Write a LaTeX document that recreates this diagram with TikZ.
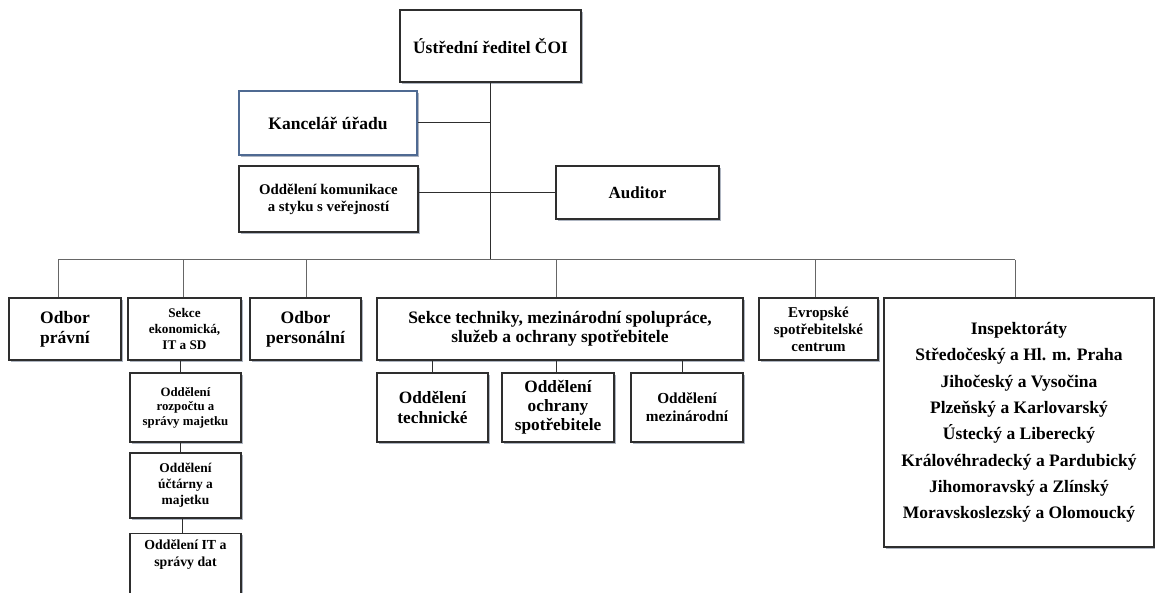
\documentclass[tikz,border=0pt]{standalone}
\usepackage{fontspec}
\setmainfont{Liberation Serif}
\usetikzlibrary{shadows}
\definecolor{boxline}{HTML}{2E2E2E}
\definecolor{kancline}{HTML}{4F6A92}
\definecolor{busline}{HTML}{666666}
\definecolor{shadowc}{HTML}{8C97A8}
\begin{document}
\begin{tikzpicture}[x=1pt,y=-1pt,
  box/.style={draw=boxline, line width=1.1pt, fill=white, rectangle, inner sep=0pt, align=center,
    drop shadow={shadow xshift=1.6pt, shadow yshift=-1.6pt, fill=shadowc, opacity=0.7}},
  fs/.style 2 args={font=\bfseries\fontsize{#1}{#2}\selectfont, align=center},
  conn/.style={draw=boxline, line width=1pt},
  bus/.style={draw=busline, line width=1pt}]
\useasboundingbox[fill=white] (0,0) rectangle (1155,593);

% top level
\node[box, fs={17.4}{20}, minimum width=181pt, minimum height=72pt] (top) at (490.5,46) {Ústřední ředitel ČOI};
\node[box, draw=kancline, fs={17.5}{20}, minimum width=178pt, minimum height=64pt] (kanc) at (328,123) {Kancelář úřadu};
\node[box, fs={14.8}{17}, minimum width=179pt, minimum height=66pt] (kom) at (328.5,199) {Oddělení komunikace\\a styku s veřejností};
\node[box, fs={17}{20}, minimum width=163pt, minimum height=53pt] (aud) at (637.5,192.5) {Auditor};

% second row
\node[box, fs={17.5}{20}, minimum width=112pt, minimum height=62pt] (pravni) at (65,329) {Odbor\\právní};
\node[box, fs={13.2}{16}, minimum width=113pt, minimum height=62pt] (ekon) at (184.5,329) {Sekce\\ekonomická,\\IT a SD};
\node[box, fs={17.5}{20}, minimum width=111pt, minimum height=62pt] (pers) at (305.5,329) {Odbor\\personální};
\node[box, fs={17.5}{19.5}, minimum width=366pt, minimum height=62pt] (sekt) at (560,329) {Sekce techniky, mezinárodní spolupráce,\\služeb a ochrany spotřebitele};
\node[box, fs={15}{17}, minimum width=119pt, minimum height=62pt] (evr) at (818.5,329) {Evropské\\spotřebitelské\\centrum};
\node[box, fs={17.5}{26.3}, minimum width=270pt, minimum height=249pt] (insp) at (1019,422.5) {Inspektoráty\\Středočeský a Hl. m. Praha\\Jihočeský a Vysočina\\Plzeňský a Karlovarský\\Ústecký a Liberecký\\Královéhradecký a Pardubický\\Jihomoravský a Zlínský\\Moravskoslezský a Olomoucký};

% sub units of Sekce ekonomická
\node[box, fs={12.8}{14.5}, minimum width=111pt, minimum height=69pt] (rozp) at (185.5,407.5) {Oddělení\\rozpočtu a\\správy majetku};
\node[box, fs={13.4}{16}, minimum width=111pt, minimum height=65pt] (ucet) at (185.5,485.5) {Oddělení\\účtárny a\\majetku};
\node[box, minimum width=111pt, minimum height=72pt, anchor=north] (it) at (185.5,533) {};
\node[fs={13.8}{17}] (itt) at (185.5,554.5) {Oddělení IT a\\správy dat};

% sub units of Sekce techniky
\node[box, fs={17.3}{19.5}, minimum width=111pt, minimum height=69pt] (tech) at (432.5,407.5) {Oddělení\\technické};
\node[box, fs={17.3}{19}, minimum width=112pt, minimum height=69pt] (ochr) at (558,407.5) {Oddělení\\ochrany\\spotřebitele};
\node[box, fs={15.3}{18}, minimum width=112pt, minimum height=69pt] (mezi) at (687,407.5) {Oddělení\\mezinárodní};

% connectors
\coordinate (hub) at (490.5,260);
\coordinate (bL) at (58,260);
\coordinate (bR) at (1015,260);
\draw[conn] (top.south) -- (hub);
\draw[conn] (kanc.east) -- (kanc.east -| top.south);
\draw[conn] (aud.west) -- (aud.west -| kom.east);
\draw[bus] (bL) -- (bR);
\foreach \x/\n in {58/pravni,183/ekon,306/pers,556/sekt,815/evr,1015/insp}
  \draw[bus] (\x,260) -- (\x,260 |- \n.north);
\draw[conn] (180,0 |- ekon.south) -- (180,0 |- rozp.north);
\draw[conn] (180,0 |- rozp.south) -- (180,0 |- ucet.north);
\draw[conn] (182,0 |- ucet.south) -- (182,0 |- it.north);
\draw[conn] (432,0 |- sekt.south) -- (432,0 |- tech.north);
\draw[conn] (556,0 |- sekt.south) -- (556,0 |- ochr.north);
\draw[conn] (682,0 |- sekt.south) -- (682,0 |- mezi.north);
\end{tikzpicture}
\end{document}
